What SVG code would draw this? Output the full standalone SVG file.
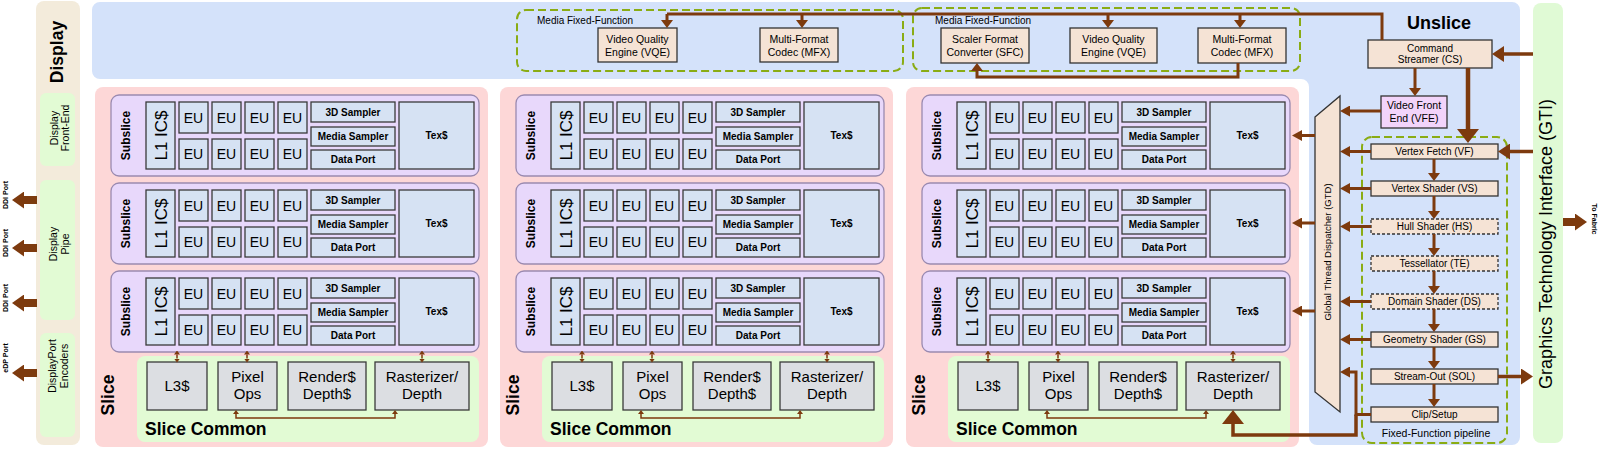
<svg xmlns="http://www.w3.org/2000/svg" width="1600" height="450" viewBox="0 0 1600 450">
<defs>
<style>
text{font-family:'Liberation Sans',Arial,Helvetica,sans-serif;fill:#000}
.b{font-weight:bold}
.c{text-anchor:middle}
.box{fill:#f5e3d5;stroke:#333;stroke-width:1.3}
.dbox{fill:#f5e3d5;stroke:#333;stroke-width:1.3;stroke-dasharray:3 2}
.eu{fill:#d6e2f3;stroke:#3a3a3a;stroke-width:1.3}
.gray{fill:#dcdee2;stroke:#3a3a3a;stroke-width:1.3}
.ss{fill:#e8d8fb;stroke:#9a8ab0;stroke-width:1.3}
.pink{fill:#fdd7d7}
.lg{fill:#e2fbd4}
.grp{fill:none;stroke:#8aac14;stroke-width:2;stroke-dasharray:8 4}
.w{fill:none;stroke:#7d3a0e}
.eut{font-size:14px}
.sm{font-size:10px;font-weight:bold}
.sc{font-size:15px}
.f10{font-size:10px}
.f105{font-size:10.5px}
</style>
<marker id="mA" markerUnits="userSpaceOnUse" markerWidth="10" markerHeight="11" refX="0" refY="5.5" orient="auto"><path d="M0,0L10,5.5L0,11Z" fill="#7d3a0e"/></marker>
<marker id="mB" markerUnits="userSpaceOnUse" markerWidth="12" markerHeight="16" refX="0" refY="8" orient="auto"><path d="M0,0L12,8L0,16Z" fill="#7d3a0e"/></marker>
<marker id="mC" markerUnits="userSpaceOnUse" markerWidth="14" markerHeight="22" refX="0" refY="11" orient="auto"><path d="M0,0L14,11L0,22Z" fill="#7d3a0e"/></marker>
<marker id="mD" markerUnits="userSpaceOnUse" markerWidth="8" markerHeight="12" refX="0" refY="6" orient="auto"><path d="M0,0L8,6L0,12Z" fill="#7d3a0e"/></marker>
<marker id="mE" markerUnits="userSpaceOnUse" markerWidth="4" markerHeight="6" refX="0" refY="3" orient="auto-start-reverse"><path d="M0,0L4,3L0,6Z" fill="#7d3a0e"/></marker>
<marker id="mF" markerUnits="userSpaceOnUse" markerWidth="12" markerHeight="17" refX="0" refY="8.5" orient="auto"><path d="M0,0L12,8.5L0,17Z" fill="#7d3a0e"/></marker>
</defs>
<rect width="1600" height="450" fill="#fff"/>

<g id="display">
<rect x="36" y="1" width="44" height="444" rx="8" fill="#f3ebdb"/>
<text class="b c" font-size="17.5" transform="translate(63,52) rotate(-90)">Display</text>
</g>
<g id="display-front-end">
<rect x="40" y="93" width="35" height="73" rx="6" fill="#e2fbd4"/>
<text class="c f105" transform="translate(57.5,128) rotate(-90)"><tspan x="0" y="0">Display</tspan><tspan x="0" y="11.5">Front-End</tspan></text>
</g>
<g id="display-pipe">
<rect x="40" y="180" width="35" height="140" rx="6" fill="#e2fbd4"/>
<text class="c f105" transform="translate(57,244) rotate(-90)"><tspan x="0" y="0">Display</tspan><tspan x="0" y="11.5">Pipe</tspan></text>
</g>
<g id="displayport-encoders">
<rect x="40" y="333" width="35" height="104" rx="6" fill="#e2fbd4"/>
<text class="c f105" transform="translate(56,366) rotate(-90)"><tspan x="0" y="0">DisplayPort</tspan><tspan x="0" y="11.5">Encoders</tspan></text>
</g>
<g id="ports">
<text class="b c" font-size="7" transform="translate(8,195) rotate(-90)">DDI Port</text>
<text class="b c" font-size="7" transform="translate(8,243) rotate(-90)">DDI Port</text>
<text class="b c" font-size="7" transform="translate(8,298) rotate(-90)">DDI Port</text>
<text class="b c" font-size="7" transform="translate(8,358) rotate(-90)">eDP Port</text>
</g>

<g id="unslice">
<path d="M100,2H1512A8,8 0 0 1 1520,10V437A8,8 0 0 1 1512,445H1317A8,8 0 0 1 1309,437V87A8,8 0 0 0 1301,79H100A8,8 0 0 1 92,71V10A8,8 0 0 1 100,2Z" fill="#d4e2fa"/>
<text class="b c" font-size="18" x="1439" y="29">Unslice</text>
</g>

<g id="gti">
<rect x="1533" y="3" width="30" height="440" rx="8" fill="#e0fad5"/>
<text class="c" font-size="18" transform="translate(1552,244) rotate(-90)">Graphics Technology Interface (GTI)</text>
</g>
<g id="to-fabric"><text class="b c" font-size="7" transform="translate(1592,219) rotate(90)">To Fabric</text></g>

<g id="media-ff-1">
<rect class="grp" x="517" y="10" width="386" height="61" rx="9"/>
<text class="f10" x="537" y="23.5">Media Fixed-Function</text>
</g>
<g id="vqe-1"><rect class="box" x="598" y="28" width="79" height="34"/><text class="c f105"><tspan x="637.5" y="43">Video Quality</tspan><tspan x="637.5" y="55.5">Engine (VQE)</tspan></text></g>
<g id="mfx-1"><rect class="box" x="760" y="28" width="78" height="34"/><text class="c f105"><tspan x="799" y="43">Multi-Format</tspan><tspan x="799" y="55.5">Codec (MFX)</tspan></text></g>

<g id="media-ff-2">
<rect class="grp" x="913" y="8" width="387" height="63" rx="9"/>
<text class="f10" x="935" y="23.5">Media Fixed-Function</text>
</g>
<g id="sfc"><rect class="box" x="941" y="28" width="88" height="35"/><text class="c f105"><tspan x="985" y="43">Scaler Format</tspan><tspan x="985" y="55.5">Converter (SFC)</tspan></text></g>
<g id="vqe-2"><rect class="box" x="1070" y="28" width="87" height="35"/><text class="c f105"><tspan x="1113.5" y="43">Video Quality</tspan><tspan x="1113.5" y="55.5">Engine (VQE)</tspan></text></g>
<g id="mfx-2"><rect class="box" x="1198" y="28" width="88" height="35"/><text class="c f105"><tspan x="1242" y="43">Multi-Format</tspan><tspan x="1242" y="55.5">Codec (MFX)</tspan></text></g>

<g id="cs"><rect class="box" x="1368" y="40" width="124" height="28"/><text class="c f10"><tspan x="1430" y="51.5">Command</tspan><tspan x="1430" y="63">Streamer (CS)</tspan></text></g>
<g id="vfe"><rect x="1381" y="96" width="66" height="32" fill="#f2d4fa" stroke="#333" stroke-width="1.3"/><text class="c f105"><tspan x="1414" y="109">Video Front</tspan><tspan x="1414" y="121.5">End (VFE)</tspan></text></g>

<g id="gtd">
<polygon class="box" points="1315,117 1340,96 1340,412 1315,392"/>
<text class="c" font-size="9.5" transform="translate(1330.5,252) rotate(-90)">Global Thread Dispatcher (GTD)</text>
</g>

<g id="ff-pipeline">
<rect class="grp" x="1362" y="137" width="145" height="306" rx="10"/>
<text class="c f105" x="1436" y="437">Fixed-Function pipeline</text>
</g>
<g id="vf"><rect class="box" x="1371" y="144" width="127" height="15"/><text class="c f10" x="1434.5" y="155">Vertex Fetch (VF)</text></g>
<g id="vs"><rect class="box" x="1371" y="181" width="127" height="15"/><text class="c f10" x="1434.5" y="192">Vertex Shader (VS)</text></g>
<g id="hs"><rect class="dbox" x="1371" y="219" width="127" height="15"/><text class="c f10" x="1434.5" y="230">Hull Shader (HS)</text></g>
<g id="te"><rect class="dbox" x="1371" y="256" width="127" height="15"/><text class="c f10" x="1434.5" y="267">Tessellator (TE)</text></g>
<g id="ds"><rect class="dbox" x="1371" y="294" width="127" height="15"/><text class="c f10" x="1434.5" y="305">Domain Shader (DS)</text></g>
<g id="gs"><rect class="box" x="1371" y="332" width="127" height="15"/><text class="c f10" x="1434.5" y="343">Geometry Shader (GS)</text></g>
<g id="sol"><rect class="box" x="1371" y="369" width="127" height="15"/><text class="c f10" x="1434.5" y="380">Stream-Out (SOL)</text></g>
<g id="clip"><rect class="box" x="1371" y="407" width="127" height="15"/><text class="c f10" x="1434.5" y="418">Clip/Setup</text></g>

<!-- Slice 1 -->
<g id="slice1" transform="translate(95,0)">
<rect class="pink" x="0" y="87" width="393" height="360" rx="8"/>
<text class="b c" font-size="17.5" transform="translate(19,395) rotate(-90)">Slice</text>
<g id="slice1-subslice1" transform="translate(0,95)">
<rect class="ss" x="16" y="0" width="368" height="81" rx="8"/>
<text class="b c" font-size="12" transform="translate(35,40.5) rotate(-90)">Subslice</text>
<rect class="eu" x="51" y="7" width="29" height="67"/>
<text class="c" font-size="17" transform="translate(71.5,40.5) rotate(-90)">L1 IC$</text>
<rect class="eu" x="84" y="7" width="29" height="31"/><rect class="eu" x="117" y="7" width="29" height="31"/><rect class="eu" x="150" y="7" width="29" height="31"/><rect class="eu" x="183" y="7" width="29" height="31"/>
<rect class="eu" x="84" y="44" width="29" height="30"/><rect class="eu" x="117" y="44" width="29" height="30"/><rect class="eu" x="150" y="44" width="29" height="30"/><rect class="eu" x="183" y="44" width="29" height="30"/>
<text class="c eut" x="98.5" y="27.5">EU</text><text class="c eut" x="131.5" y="27.5">EU</text><text class="c eut" x="164.5" y="27.5">EU</text><text class="c eut" x="197.5" y="27.5">EU</text>
<text class="c eut" x="98.5" y="64">EU</text><text class="c eut" x="131.5" y="64">EU</text><text class="c eut" x="164.5" y="64">EU</text><text class="c eut" x="197.5" y="64">EU</text>
<rect class="eu" x="216" y="7" width="84" height="20"/><rect class="eu" x="216" y="32" width="84" height="19"/><rect class="eu" x="216" y="55" width="84" height="19"/><rect class="eu" x="304" y="7" width="75" height="67"/>
<text class="c sm" x="258" y="20.6">3D Sampler</text><text class="c sm" x="258" y="45">Media Sampler</text><text class="c sm" x="258" y="68">Data Port</text><text class="c sm" x="341.5" y="44">Tex$</text>
</g>
<g id="slice1-subslice2" transform="translate(0,183)">
<rect class="ss" x="16" y="0" width="368" height="81" rx="8"/>
<text class="b c" font-size="12" transform="translate(35,40.5) rotate(-90)">Subslice</text>
<rect class="eu" x="51" y="7" width="29" height="67"/>
<text class="c" font-size="17" transform="translate(71.5,40.5) rotate(-90)">L1 IC$</text>
<rect class="eu" x="84" y="7" width="29" height="31"/><rect class="eu" x="117" y="7" width="29" height="31"/><rect class="eu" x="150" y="7" width="29" height="31"/><rect class="eu" x="183" y="7" width="29" height="31"/>
<rect class="eu" x="84" y="44" width="29" height="30"/><rect class="eu" x="117" y="44" width="29" height="30"/><rect class="eu" x="150" y="44" width="29" height="30"/><rect class="eu" x="183" y="44" width="29" height="30"/>
<text class="c eut" x="98.5" y="27.5">EU</text><text class="c eut" x="131.5" y="27.5">EU</text><text class="c eut" x="164.5" y="27.5">EU</text><text class="c eut" x="197.5" y="27.5">EU</text>
<text class="c eut" x="98.5" y="64">EU</text><text class="c eut" x="131.5" y="64">EU</text><text class="c eut" x="164.5" y="64">EU</text><text class="c eut" x="197.5" y="64">EU</text>
<rect class="eu" x="216" y="7" width="84" height="20"/><rect class="eu" x="216" y="32" width="84" height="19"/><rect class="eu" x="216" y="55" width="84" height="19"/><rect class="eu" x="304" y="7" width="75" height="67"/>
<text class="c sm" x="258" y="20.6">3D Sampler</text><text class="c sm" x="258" y="45">Media Sampler</text><text class="c sm" x="258" y="68">Data Port</text><text class="c sm" x="341.5" y="44">Tex$</text>
</g>
<g id="slice1-subslice3" transform="translate(0,271)">
<rect class="ss" x="16" y="0" width="368" height="81" rx="8"/>
<text class="b c" font-size="12" transform="translate(35,40.5) rotate(-90)">Subslice</text>
<rect class="eu" x="51" y="7" width="29" height="67"/>
<text class="c" font-size="17" transform="translate(71.5,40.5) rotate(-90)">L1 IC$</text>
<rect class="eu" x="84" y="7" width="29" height="31"/><rect class="eu" x="117" y="7" width="29" height="31"/><rect class="eu" x="150" y="7" width="29" height="31"/><rect class="eu" x="183" y="7" width="29" height="31"/>
<rect class="eu" x="84" y="44" width="29" height="30"/><rect class="eu" x="117" y="44" width="29" height="30"/><rect class="eu" x="150" y="44" width="29" height="30"/><rect class="eu" x="183" y="44" width="29" height="30"/>
<text class="c eut" x="98.5" y="27.5">EU</text><text class="c eut" x="131.5" y="27.5">EU</text><text class="c eut" x="164.5" y="27.5">EU</text><text class="c eut" x="197.5" y="27.5">EU</text>
<text class="c eut" x="98.5" y="64">EU</text><text class="c eut" x="131.5" y="64">EU</text><text class="c eut" x="164.5" y="64">EU</text><text class="c eut" x="197.5" y="64">EU</text>
<rect class="eu" x="216" y="7" width="84" height="20"/><rect class="eu" x="216" y="32" width="84" height="19"/><rect class="eu" x="216" y="55" width="84" height="19"/><rect class="eu" x="304" y="7" width="75" height="67"/>
<text class="c sm" x="258" y="20.6">3D Sampler</text><text class="c sm" x="258" y="45">Media Sampler</text><text class="c sm" x="258" y="68">Data Port</text><text class="c sm" x="341.5" y="44">Tex$</text>
</g>
<g id="slice1-common">
<rect class="lg" x="42" y="356" width="342" height="86" rx="8"/>
<rect class="gray" x="52" y="362" width="60" height="48"/><text class="c sc" x="82" y="391">L3$</text>
<rect class="gray" x="123" y="362" width="59" height="48"/><text class="c sc"><tspan x="152.5" y="382">Pixel</tspan><tspan x="152.5" y="399">Ops</tspan></text>
<rect class="gray" x="193" y="362" width="78" height="48"/><text class="c sc"><tspan x="232" y="382">Render$</tspan><tspan x="232" y="399">Depth$</tspan></text>
<rect class="gray" x="280" y="362" width="94" height="48"/><text class="c sc"><tspan x="327" y="382">Rasterizer/</tspan><tspan x="327" y="399">Depth</tspan></text>
<text class="b" font-size="17.5" x="50" y="435">Slice Common</text>
</g>
</g>

<!-- Slice 2 -->
<g id="slice2" transform="translate(500,0)">
<rect class="pink" x="0" y="87" width="393" height="360" rx="8"/>
<text class="b c" font-size="17.5" transform="translate(19,395) rotate(-90)">Slice</text>
<g id="slice2-subslice1" transform="translate(0,95)">
<rect class="ss" x="16" y="0" width="368" height="81" rx="8"/>
<text class="b c" font-size="12" transform="translate(35,40.5) rotate(-90)">Subslice</text>
<rect class="eu" x="51" y="7" width="29" height="67"/>
<text class="c" font-size="17" transform="translate(71.5,40.5) rotate(-90)">L1 IC$</text>
<rect class="eu" x="84" y="7" width="29" height="31"/><rect class="eu" x="117" y="7" width="29" height="31"/><rect class="eu" x="150" y="7" width="29" height="31"/><rect class="eu" x="183" y="7" width="29" height="31"/>
<rect class="eu" x="84" y="44" width="29" height="30"/><rect class="eu" x="117" y="44" width="29" height="30"/><rect class="eu" x="150" y="44" width="29" height="30"/><rect class="eu" x="183" y="44" width="29" height="30"/>
<text class="c eut" x="98.5" y="27.5">EU</text><text class="c eut" x="131.5" y="27.5">EU</text><text class="c eut" x="164.5" y="27.5">EU</text><text class="c eut" x="197.5" y="27.5">EU</text>
<text class="c eut" x="98.5" y="64">EU</text><text class="c eut" x="131.5" y="64">EU</text><text class="c eut" x="164.5" y="64">EU</text><text class="c eut" x="197.5" y="64">EU</text>
<rect class="eu" x="216" y="7" width="84" height="20"/><rect class="eu" x="216" y="32" width="84" height="19"/><rect class="eu" x="216" y="55" width="84" height="19"/><rect class="eu" x="304" y="7" width="75" height="67"/>
<text class="c sm" x="258" y="20.6">3D Sampler</text><text class="c sm" x="258" y="45">Media Sampler</text><text class="c sm" x="258" y="68">Data Port</text><text class="c sm" x="341.5" y="44">Tex$</text>
</g>
<g id="slice2-subslice2" transform="translate(0,183)">
<rect class="ss" x="16" y="0" width="368" height="81" rx="8"/>
<text class="b c" font-size="12" transform="translate(35,40.5) rotate(-90)">Subslice</text>
<rect class="eu" x="51" y="7" width="29" height="67"/>
<text class="c" font-size="17" transform="translate(71.5,40.5) rotate(-90)">L1 IC$</text>
<rect class="eu" x="84" y="7" width="29" height="31"/><rect class="eu" x="117" y="7" width="29" height="31"/><rect class="eu" x="150" y="7" width="29" height="31"/><rect class="eu" x="183" y="7" width="29" height="31"/>
<rect class="eu" x="84" y="44" width="29" height="30"/><rect class="eu" x="117" y="44" width="29" height="30"/><rect class="eu" x="150" y="44" width="29" height="30"/><rect class="eu" x="183" y="44" width="29" height="30"/>
<text class="c eut" x="98.5" y="27.5">EU</text><text class="c eut" x="131.5" y="27.5">EU</text><text class="c eut" x="164.5" y="27.5">EU</text><text class="c eut" x="197.5" y="27.5">EU</text>
<text class="c eut" x="98.5" y="64">EU</text><text class="c eut" x="131.5" y="64">EU</text><text class="c eut" x="164.5" y="64">EU</text><text class="c eut" x="197.5" y="64">EU</text>
<rect class="eu" x="216" y="7" width="84" height="20"/><rect class="eu" x="216" y="32" width="84" height="19"/><rect class="eu" x="216" y="55" width="84" height="19"/><rect class="eu" x="304" y="7" width="75" height="67"/>
<text class="c sm" x="258" y="20.6">3D Sampler</text><text class="c sm" x="258" y="45">Media Sampler</text><text class="c sm" x="258" y="68">Data Port</text><text class="c sm" x="341.5" y="44">Tex$</text>
</g>
<g id="slice2-subslice3" transform="translate(0,271)">
<rect class="ss" x="16" y="0" width="368" height="81" rx="8"/>
<text class="b c" font-size="12" transform="translate(35,40.5) rotate(-90)">Subslice</text>
<rect class="eu" x="51" y="7" width="29" height="67"/>
<text class="c" font-size="17" transform="translate(71.5,40.5) rotate(-90)">L1 IC$</text>
<rect class="eu" x="84" y="7" width="29" height="31"/><rect class="eu" x="117" y="7" width="29" height="31"/><rect class="eu" x="150" y="7" width="29" height="31"/><rect class="eu" x="183" y="7" width="29" height="31"/>
<rect class="eu" x="84" y="44" width="29" height="30"/><rect class="eu" x="117" y="44" width="29" height="30"/><rect class="eu" x="150" y="44" width="29" height="30"/><rect class="eu" x="183" y="44" width="29" height="30"/>
<text class="c eut" x="98.5" y="27.5">EU</text><text class="c eut" x="131.5" y="27.5">EU</text><text class="c eut" x="164.5" y="27.5">EU</text><text class="c eut" x="197.5" y="27.5">EU</text>
<text class="c eut" x="98.5" y="64">EU</text><text class="c eut" x="131.5" y="64">EU</text><text class="c eut" x="164.5" y="64">EU</text><text class="c eut" x="197.5" y="64">EU</text>
<rect class="eu" x="216" y="7" width="84" height="20"/><rect class="eu" x="216" y="32" width="84" height="19"/><rect class="eu" x="216" y="55" width="84" height="19"/><rect class="eu" x="304" y="7" width="75" height="67"/>
<text class="c sm" x="258" y="20.6">3D Sampler</text><text class="c sm" x="258" y="45">Media Sampler</text><text class="c sm" x="258" y="68">Data Port</text><text class="c sm" x="341.5" y="44">Tex$</text>
</g>
<g id="slice2-common">
<rect class="lg" x="42" y="356" width="342" height="86" rx="8"/>
<rect class="gray" x="52" y="362" width="60" height="48"/><text class="c sc" x="82" y="391">L3$</text>
<rect class="gray" x="123" y="362" width="59" height="48"/><text class="c sc"><tspan x="152.5" y="382">Pixel</tspan><tspan x="152.5" y="399">Ops</tspan></text>
<rect class="gray" x="193" y="362" width="78" height="48"/><text class="c sc"><tspan x="232" y="382">Render$</tspan><tspan x="232" y="399">Depth$</tspan></text>
<rect class="gray" x="280" y="362" width="94" height="48"/><text class="c sc"><tspan x="327" y="382">Rasterizer/</tspan><tspan x="327" y="399">Depth</tspan></text>
<text class="b" font-size="17.5" x="50" y="435">Slice Common</text>
</g>
</g>

<!-- Slice 3 -->
<g id="slice3" transform="translate(906,0)">
<rect class="pink" x="0" y="87" width="393" height="360" rx="8"/>
<text class="b c" font-size="17.5" transform="translate(19,395) rotate(-90)">Slice</text>
<g id="slice3-subslice1" transform="translate(0,95)">
<rect class="ss" x="16" y="0" width="368" height="81" rx="8"/>
<text class="b c" font-size="12" transform="translate(35,40.5) rotate(-90)">Subslice</text>
<rect class="eu" x="51" y="7" width="29" height="67"/>
<text class="c" font-size="17" transform="translate(71.5,40.5) rotate(-90)">L1 IC$</text>
<rect class="eu" x="84" y="7" width="29" height="31"/><rect class="eu" x="117" y="7" width="29" height="31"/><rect class="eu" x="150" y="7" width="29" height="31"/><rect class="eu" x="183" y="7" width="29" height="31"/>
<rect class="eu" x="84" y="44" width="29" height="30"/><rect class="eu" x="117" y="44" width="29" height="30"/><rect class="eu" x="150" y="44" width="29" height="30"/><rect class="eu" x="183" y="44" width="29" height="30"/>
<text class="c eut" x="98.5" y="27.5">EU</text><text class="c eut" x="131.5" y="27.5">EU</text><text class="c eut" x="164.5" y="27.5">EU</text><text class="c eut" x="197.5" y="27.5">EU</text>
<text class="c eut" x="98.5" y="64">EU</text><text class="c eut" x="131.5" y="64">EU</text><text class="c eut" x="164.5" y="64">EU</text><text class="c eut" x="197.5" y="64">EU</text>
<rect class="eu" x="216" y="7" width="84" height="20"/><rect class="eu" x="216" y="32" width="84" height="19"/><rect class="eu" x="216" y="55" width="84" height="19"/><rect class="eu" x="304" y="7" width="75" height="67"/>
<text class="c sm" x="258" y="20.6">3D Sampler</text><text class="c sm" x="258" y="45">Media Sampler</text><text class="c sm" x="258" y="68">Data Port</text><text class="c sm" x="341.5" y="44">Tex$</text>
</g>
<g id="slice3-subslice2" transform="translate(0,183)">
<rect class="ss" x="16" y="0" width="368" height="81" rx="8"/>
<text class="b c" font-size="12" transform="translate(35,40.5) rotate(-90)">Subslice</text>
<rect class="eu" x="51" y="7" width="29" height="67"/>
<text class="c" font-size="17" transform="translate(71.5,40.5) rotate(-90)">L1 IC$</text>
<rect class="eu" x="84" y="7" width="29" height="31"/><rect class="eu" x="117" y="7" width="29" height="31"/><rect class="eu" x="150" y="7" width="29" height="31"/><rect class="eu" x="183" y="7" width="29" height="31"/>
<rect class="eu" x="84" y="44" width="29" height="30"/><rect class="eu" x="117" y="44" width="29" height="30"/><rect class="eu" x="150" y="44" width="29" height="30"/><rect class="eu" x="183" y="44" width="29" height="30"/>
<text class="c eut" x="98.5" y="27.5">EU</text><text class="c eut" x="131.5" y="27.5">EU</text><text class="c eut" x="164.5" y="27.5">EU</text><text class="c eut" x="197.5" y="27.5">EU</text>
<text class="c eut" x="98.5" y="64">EU</text><text class="c eut" x="131.5" y="64">EU</text><text class="c eut" x="164.5" y="64">EU</text><text class="c eut" x="197.5" y="64">EU</text>
<rect class="eu" x="216" y="7" width="84" height="20"/><rect class="eu" x="216" y="32" width="84" height="19"/><rect class="eu" x="216" y="55" width="84" height="19"/><rect class="eu" x="304" y="7" width="75" height="67"/>
<text class="c sm" x="258" y="20.6">3D Sampler</text><text class="c sm" x="258" y="45">Media Sampler</text><text class="c sm" x="258" y="68">Data Port</text><text class="c sm" x="341.5" y="44">Tex$</text>
</g>
<g id="slice3-subslice3" transform="translate(0,271)">
<rect class="ss" x="16" y="0" width="368" height="81" rx="8"/>
<text class="b c" font-size="12" transform="translate(35,40.5) rotate(-90)">Subslice</text>
<rect class="eu" x="51" y="7" width="29" height="67"/>
<text class="c" font-size="17" transform="translate(71.5,40.5) rotate(-90)">L1 IC$</text>
<rect class="eu" x="84" y="7" width="29" height="31"/><rect class="eu" x="117" y="7" width="29" height="31"/><rect class="eu" x="150" y="7" width="29" height="31"/><rect class="eu" x="183" y="7" width="29" height="31"/>
<rect class="eu" x="84" y="44" width="29" height="30"/><rect class="eu" x="117" y="44" width="29" height="30"/><rect class="eu" x="150" y="44" width="29" height="30"/><rect class="eu" x="183" y="44" width="29" height="30"/>
<text class="c eut" x="98.5" y="27.5">EU</text><text class="c eut" x="131.5" y="27.5">EU</text><text class="c eut" x="164.5" y="27.5">EU</text><text class="c eut" x="197.5" y="27.5">EU</text>
<text class="c eut" x="98.5" y="64">EU</text><text class="c eut" x="131.5" y="64">EU</text><text class="c eut" x="164.5" y="64">EU</text><text class="c eut" x="197.5" y="64">EU</text>
<rect class="eu" x="216" y="7" width="84" height="20"/><rect class="eu" x="216" y="32" width="84" height="19"/><rect class="eu" x="216" y="55" width="84" height="19"/><rect class="eu" x="304" y="7" width="75" height="67"/>
<text class="c sm" x="258" y="20.6">3D Sampler</text><text class="c sm" x="258" y="45">Media Sampler</text><text class="c sm" x="258" y="68">Data Port</text><text class="c sm" x="341.5" y="44">Tex$</text>
</g>
<g id="slice3-common">
<rect class="lg" x="42" y="356" width="342" height="86" rx="8"/>
<rect class="gray" x="52" y="362" width="60" height="48"/><text class="c sc" x="82" y="391">L3$</text>
<rect class="gray" x="123" y="362" width="59" height="48"/><text class="c sc"><tspan x="152.5" y="382">Pixel</tspan><tspan x="152.5" y="399">Ops</tspan></text>
<rect class="gray" x="193" y="362" width="78" height="48"/><text class="c sc"><tspan x="232" y="382">Render$</tspan><tspan x="232" y="399">Depth$</tspan></text>
<rect class="gray" x="280" y="362" width="94" height="48"/><text class="c sc"><tspan x="327" y="382">Rasterizer/</tspan><tspan x="327" y="399">Depth</tspan></text>
<text class="b" font-size="17.5" x="50" y="435">Slice Common</text>
</g>
</g>

<g id="connectors">
<!-- display ports -->
<g class="w" stroke-width="8" marker-end="url(#mF)">
<path d="M37,200H24"/><path d="M37,248H24"/><path d="M37,303H24"/><path d="M37,373H24"/>
<path d="M1563,222H1575"/>
</g>
<!-- GTI links -->
<g class="w" stroke-width="3.5" marker-end="url(#mB)">
<path d="M1533,54H1504"/><path d="M1533,151.5H1510"/><path d="M1498,376.5H1521"/>
</g>
<!-- CS to media -->
<path class="w" stroke-width="3" d="M1382,40V14H667"/>
<g class="w" stroke-width="3" marker-end="url(#mD)">
<path d="M667,14V20"/><path d="M802,14V20"/><path d="M1108,14V20"/><path d="M1240,14V20"/>
<path d="M1238,63V77H977V71"/>
<path d="M1415,68V88"/>
<path d="M1434,159V173"/><path d="M1434,196V211"/><path d="M1434,234V248"/><path d="M1434,271V286"/><path d="M1434,309V324"/><path d="M1434,347V361"/><path d="M1434,384V399"/>
</g>
<path class="w" stroke-width="4.5" marker-end="url(#mC)" d="M1468,68V129"/>
<!-- to GTD -->
<g class="w" stroke-width="3" marker-end="url(#mA)">
<path d="M1381,111H1350"/>
<path d="M1371,151.5H1350"/><path d="M1371,188.5H1350"/><path d="M1371,226.5H1350"/><path d="M1371,301.5H1350"/><path d="M1371,339.5H1350"/>
<path d="M1371,414.5H1356V372H1350"/>
<path d="M1315,135.5H1302"/><path d="M1315,223H1302"/><path d="M1315,311H1302"/>
</g>
<path class="w" stroke-width="3.5" marker-end="url(#mC)" d="M1356,414.5V435H1233V424"/>
<!-- slice internal -->
<g class="w" stroke-width="1.5" marker-start="url(#mE)" marker-end="url(#mE)">
<path d="M177,354.5V358.5"/><path d="M247,354.5V358.5"/><path d="M422,354.5V358.5"/>
<path d="M236,414V418H395V414"/>
<path d="M582,354.5V358.5"/><path d="M652,354.5V358.5"/><path d="M827,354.5V358.5"/>
<path d="M641,414V418H800V414"/>
<path d="M988,354.5V358.5"/><path d="M1058,354.5V358.5"/><path d="M1233,354.5V358.5"/>
<path d="M1047,414V418H1206V414"/>
</g>
</g>
</svg>
